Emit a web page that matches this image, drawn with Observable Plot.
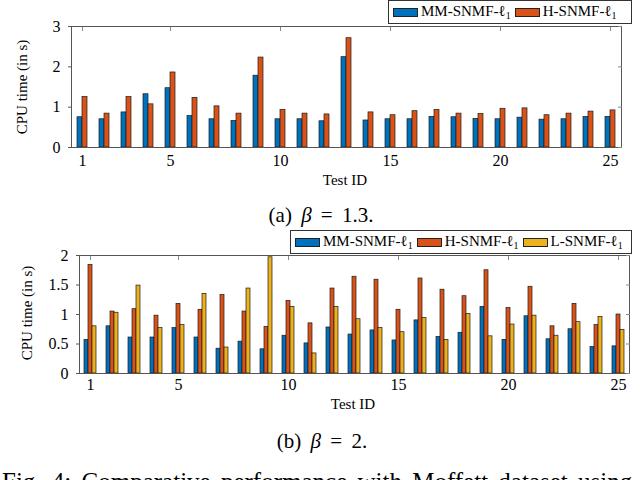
<!DOCTYPE html>
<html>
<head>
<meta charset="utf-8">
<script src="https://cdn.jsdelivr.net/npm/d3@7"></script>
<script src="https://cdn.jsdelivr.net/npm/@observablehq/plot@0.6"></script>
<style>
  html, body { margin: 0; padding: 0; background: #fff; }
  #root { position: relative; width: 640px; height: 480px; overflow: hidden; background: #fff;
          font-family: "Liberation Serif", "DejaVu Serif", serif; color: #000; }
  .abs { position: absolute; white-space: nowrap; }
  .ylab { position: absolute; font-size: 15px; transform: translate(-50%, -50%) rotate(-90deg); white-space: nowrap; }
  .xlab { position: absolute; font-size: 15px; transform: translate(-50%, -50%); white-space: nowrap; }
  .cap { position: absolute; font-size: 21px; transform: translate(-50%, -50%); white-space: nowrap; word-spacing: 4px; }
  .legend { position: absolute; border: 1px solid #333; background: #fff; box-sizing: border-box;
            display: flex; align-items: center; font-size: 15px; padding: 0 4px; gap: 4px; }
  .item { display: flex; align-items: center; gap: 3px; }
  .sw { display: inline-block; width: 25px; height: 9px; border: 1px solid #222; box-sizing: border-box; }
  sub { font-size: 10px; vertical-align: -3px; }
</style>
</head>
<body>
<div id="root"></div>
<script>
// ---- data ----
const ids = [1,2,3,4,5,6,7,8,9,10,11,12,13,14,15,16,17,18,19,20,21,22,23,24,25];
const tickIds = [1,5,10,15,20,25];

// (a) beta = 1.3
const seriesA = ["MM-SNMF-l1", "H-SNMF-l1"];
const mmA = [0.75,0.70,0.87,1.32,1.47,0.78,0.70,0.66,1.78,0.70,0.70,0.65,2.24,0.67,0.70,0.70,0.76,0.75,0.71,0.70,0.74,0.69,0.70,0.76,0.76];
const hA  = [1.25,0.84,1.25,1.07,1.86,1.23,1.02,0.84,2.23,0.93,0.84,0.82,2.71,0.87,0.80,0.90,0.93,0.84,0.83,0.96,0.97,0.80,0.84,0.89,0.92];
const yTicksA = [0,1,2,3];

// (b) beta = 2
const seriesB = ["MM-SNMF-l1", "H-SNMF-l1", "L-SNMF-l1"];
const mmB = [0.57,0.80,0.61,0.61,0.77,0.61,0.42,0.54,0.41,0.64,0.51,0.78,0.66,0.73,0.56,0.90,0.62,0.69,1.13,0.57,0.97,0.58,0.75,0.45,0.46];
const hB  = [1.84,1.05,1.09,0.98,1.18,1.08,1.33,1.05,0.79,1.23,0.85,1.44,1.64,1.59,1.08,1.61,1.42,1.31,1.75,1.11,1.47,0.80,1.18,0.82,1.00];
const lB  = [0.80,1.03,1.49,0.77,0.82,1.35,0.44,1.44,1.97,1.13,0.34,1.13,0.92,0.77,0.70,0.94,0.57,1.01,0.63,0.83,0.98,0.64,0.87,0.96,0.74];
const yTicksB = [0,0.5,1,1.5,2];

const colors = ["#0072BD", "#D95319", "#EDB120"];
const legendLabels = ["MM-SNMF-ℓ<sub>1</sub>", "H-SNMF-ℓ<sub>1</sub>", "L-SNMF-ℓ<sub>1</sub>"];

const tableA = ids.flatMap((id, i) => [
  {id, series: seriesA[0], value: mmA[i]},
  {id, series: seriesA[1], value: hA[i]}
]);
const tableB = ids.flatMap((id, i) => [
  {id, series: seriesB[0], value: mmB[i]},
  {id, series: seriesB[1], value: hB[i]},
  {id, series: seriesB[2], value: lB[i]}
]);

const fmt = (d) => `${d}`;

function chart(table, series, yDomain, yTicks, opts) {
  return Plot.plot({
    width: 640,
    height: opts.height,
    marginLeft: opts.ml, marginRight: 8, marginTop: opts.mt, marginBottom: opts.mb,
    style: {fontFamily: "'Liberation Serif', serif", fontSize: "16px", color: "#000", background: "transparent"},
    fx: {domain: ids, padding: 0, axis: null, label: null},
    x: {type: "band", domain: series, paddingInner: 0, paddingOuter: opts.po, axis: null},
    y: {domain: yDomain, axis: null},
    color: {domain: series, range: colors.slice(0, series.length)},
    marks: [
      Plot.barY(table, {fx: "id", x: "series", y: "value", fill: "series", stroke: "#1a1a1a", strokeWidth: 0.7}),
      Plot.frame({facet: "super", stroke: "#555", strokeWidth: 1}),
      Plot.axisY({ticks: yTicks, tickFormat: fmt, anchor: "left", tickSize: 3, tickPadding: 8, stroke: "#555", fill: "#000", label: null}),
      Plot.axisY({ticks: yTicks, anchor: "right", tickSize: -4, tickFormat: () => "", stroke: "#888", label: null}),
      Plot.axisFx({ticks: tickIds, tickFormat: fmt, anchor: "bottom", tickSize: 0, tickPadding: opts.tp, fill: "#000", label: null}),
      Plot.axisFx({ticks: tickIds, anchor: "top", tickSize: -4, tickFormat: () => "", stroke: "#888", label: null})
    ]
  });
}

const root = document.getElementById("root");

function place(el, top, left) {
  el.style.position = "absolute";
  el.style.top = top + "px";
  el.style.left = left + "px";
  root.appendChild(el);
}

const svgA = chart(tableA, seriesA, [0, 3], yTicksA, {height: 200, ml: 59, mt: 26, mb: 53, po: 1.08, tp: 7});
place(svgA, 0, 0);
const svgB = chart(tableB, seriesB, [0, 2], yTicksB, {height: 180, ml: 75, mt: 25, mb: 37, po: 1.07, tp: 5});
place(svgB, 230, 0);

function html(cls, text, x, y) {
  const d = document.createElement("div");
  d.className = cls;
  d.innerHTML = text;
  d.style.left = x + "px";
  d.style.top = y + "px";
  root.appendChild(d);
  return d;
}

html("ylab", "CPU time (in s)", 22, 87);
html("xlab", "Test ID", 345, 180);
html("cap", "(a) <i>β</i> = 1.3.", 321, 215);

html("ylab", "CPU time (in s)", 27, 313);
html("xlab", "Test ID", 353, 404);
html("cap", "(b) <i>β</i> = 2.", 322, 441);

function legend(n, left, top, width) {
  const d = document.createElement("div");
  d.className = "legend";
  d.style.left = left + "px";
  d.style.top = top + "px";
  d.style.width = width + "px";
  d.style.height = "24px";
  for (let i = 0; i < n; i++) {
    const it = document.createElement("div");
    it.className = "item";
    it.innerHTML = `<span class="sw" style="background:${colors[i]}"></span><span>${legendLabels[i]}</span>`;
    d.appendChild(it);
  }
  root.appendChild(d);
}
legend(2, 388, 0, 244);
legend(3, 290, 230, 342);

const fig = document.createElement("div");
fig.className = "abs";
fig.style.left = "2px";
fig.style.top = "469px";
fig.style.fontSize = "25px";
fig.style.lineHeight = "1";
fig.style.wordSpacing = "4px";
fig.textContent = "Fig. 4: Comparative performance with Moffett dataset using";
root.appendChild(fig);
</script>
</body>
</html>
